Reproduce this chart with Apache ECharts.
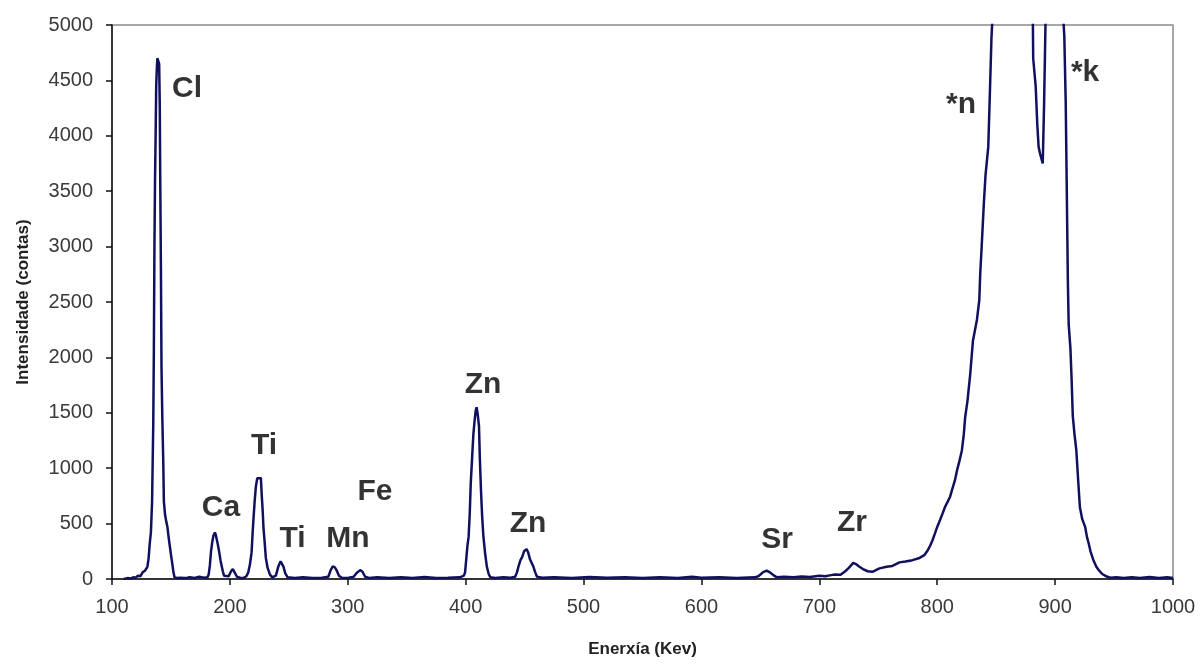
<!DOCTYPE html>
<html>
<head>
<meta charset="utf-8">
<script src="https://cdn.jsdelivr.net/npm/echarts@6/dist/echarts.min.js"></script>
<style>
  html, body { margin: 0; padding: 0; background: #ffffff; }
  #chart { width: 1200px; height: 664px; }
</style>
</head>
<body>
<div id="chart"></div>
<script>
// XRF spectrum: energy channel (Kev) and detected intensity (counts)
const energy = [
  110, 113, 116, 118, 120, 122, 124, 126, 128, 129, 130, 131, 132, 133, 134, 135, 135.5, 136, 136.5, 137,
  137.5, 138, 138.5, 139.3, 140, 140.5, 141, 141.5, 142, 142.7, 143.5, 144, 145, 146, 147, 148, 149, 150,
  151, 152, 153, 155, 158, 162, 166, 170, 174, 178, 181, 182, 183, 184, 185, 186, 187.3, 188, 189, 190,
  191, 192, 193, 194, 195, 196.5, 199, 201, 202.5, 204, 206, 209, 212, 214, 215.6, 217, 218.4, 219.3,
  220, 221, 222, 223.2, 226.3, 227, 227.8, 228.5, 229.5, 230.5, 232, 234, 236, 239, 241, 243, 244,
  245.5, 247, 249, 255, 262, 270, 278, 283.5, 285.5, 287.3, 289, 290.7, 292.5, 295, 300, 305, 307.5,
  310.5, 312.5, 314.7, 318, 325, 335, 345, 355, 365, 375, 385, 395, 398.5, 399.5, 400.5, 401.5, 402.5,
  403.5, 404.3, 405.5, 406.5, 407.5, 408.5, 409.3, 410.3, 411.3, 412, 413, 414, 415, 416.5, 418, 419.5,
  421, 425, 432, 438, 442, 443.5, 445, 446.5, 448, 449.5, 451.7, 453, 454.5, 456, 457.5, 459, 460.5,
  465, 475, 490, 505, 520, 535, 550, 565, 580, 592, 600, 615, 630, 645, 648.3, 650, 652, 655.3, 658,
  661, 664, 670, 678, 685, 692, 700, 705, 710, 713, 718, 722, 725, 728.8, 731, 734, 737, 741, 745, 751,
  757, 762, 768, 773, 779, 785, 789, 792, 794, 796, 798, 800, 802.3, 804.5, 806.6, 809, 811, 813, 815,
  817, 818.5, 820.9, 822.5, 823.7, 825.7, 828, 830.3, 833.7, 835.7, 836.5, 837.7, 839.6, 841, 843.3,
  844.7, 846, 848, 852, 860, 870, 878, 881, 881.4, 883.5, 884.9, 886, 887.2, 889.5, 890.6, 891.5, 892.5,
  897, 903, 906.5, 907, 907.8, 909, 909.8, 910.3, 910.8, 911.5, 913, 914, 915, 916.5, 918, 919.5, 921,
  923, 925.5, 927, 928.5, 930, 932.5, 935, 937, 940, 943.8, 947, 952, 958, 965, 972, 980, 988, 995, 1000
];
const counts = [
  0, 8, 5, 15, 12, 30, 25, 60, 75, 70, 110, 180, 320, 420, 700, 1400, 2050, 3000, 3600, 4000,
  4450, 4600, 4700, 4710, 4650, 4300, 3500, 2800, 1900, 1450, 1050, 700, 580, 520, 470, 380, 300, 220,
  150, 70, 15, 10, 12, 8, 15, 10, 20, 12, 15, 40, 120, 250, 330, 390, 420, 400, 350, 300,
  240, 170, 120, 70, 30, 15, 25, 70, 90, 60, 20, 10, 12, 25, 60, 130, 240, 420,
  540, 700, 830, 910, 910, 760, 620, 460, 330, 190, 100, 40, 15, 30, 110, 160, 150,
  110, 50, 15, 10, 15, 8, 12, 20, 80, 115, 105, 75, 30, 12, 10, 20, 55,
  80, 65, 20, 10, 15, 10, 15, 8, 18, 10, 12, 15, 30, 60, 180, 300, 380,
  600, 860, 1100, 1300, 1420, 1520, 1550, 1480, 1380, 1100, 800, 560, 390, 230, 110, 45,
  15, 10, 15, 12, 20, 60, 120, 170, 200, 250, 270, 240, 180, 145, 110, 60, 20,
  12, 15, 10, 18, 12, 15, 10, 15, 10, 20, 12, 15, 10, 15, 25, 40, 60, 75, 60,
  35, 15, 20, 15, 22, 18, 30, 25, 35, 40, 38, 70, 100, 145, 135, 110, 90, 70, 65, 96,
  110, 118, 150, 158, 170, 190, 215, 260, 300, 350, 410, 470, 530, 590, 650, 700, 745, 820, 890,
  990, 1050, 1160, 1300, 1460, 1610, 1850, 2150, 2340, 2520, 2760, 3000, 3400, 3650, 3900,
  4400, 4880, 5300, 5800, 6200, 6300, 6000, 5200, 4700, 4450, 4100, 3900, 3840, 3750, 4260, 4800, 5400,
  6300, 6000, 5300, 5050, 4900, 4300, 3600, 3150, 2700, 2300, 2080, 1800, 1470, 1300, 1160, 900, 650,
  540, 470, 380, 320, 250, 170, 110, 80, 45, 22, 12, 15, 8, 15, 10, 18, 10, 15, 10
];

// Element annotations: label text and the (energy, counts) point it sits on
const peakNames  = ['Cl', 'Ca', 'Ti', 'Ti', 'Mn', 'Fe', 'Zn', 'Zn', 'Sr', 'Zr', '*n', '*k'];
const peakEnergy = [163.6, 192.5, 228.9, 253.1, 300.2, 323.1, 414.7, 452.9, 664.1, 727.7, 820.2, 925.4];
const peakCounts = [4422, 641, 1200, 361, 361, 785, 1751, 496, 352, 505, 4278, 4567];

// Axis ticks
const xTicks = { min: 100, max: 1000, step: 100 };
const yTicks = { min: 0, max: 5000, step: 500 };

const spectrum = energy.map((e, i) => [e, counts[i]]);
const labels = peakNames.map((n, i) => [peakEnergy[i], peakCounts[i], n]);

const FONT = '"Liberation Sans", Arial, sans-serif';
const plain = v => String(v);

const chart = echarts.init(document.getElementById('chart'), null, { renderer: 'canvas' });
chart.setOption({
  animation: false,
  backgroundColor: '#ffffff',
  grid: {
    left: 112, right: 27, top: 25, bottom: 85,
    show: true, borderColor: '#8a8a8a', borderWidth: 1.5, backgroundColor: '#ffffff'
  },
  xAxis: {
    type: 'value',
    min: xTicks.min, max: xTicks.max, interval: xTicks.step,
    name: 'Enerxía (Kev)',
    nameLocation: 'middle',
    nameGap: 62,
    nameTextStyle: { fontFamily: FONT, fontSize: 17, fontWeight: 'bold', color: '#222' },
    axisLine: { show: true, lineStyle: { color: '#111', width: 1.5 } },
    axisTick: { show: true, length: 6, lineStyle: { color: '#111', width: 1.5 } },
    axisLabel: { fontFamily: FONT, fontSize: 20, color: '#3a3a3a', margin: 18, formatter: plain },
    splitLine: { show: false }
  },
  yAxis: {
    type: 'value',
    min: yTicks.min, max: yTicks.max, interval: yTicks.step,
    name: 'Intensidade (contas)',
    nameLocation: 'middle',
    nameGap: 80,
    nameTextStyle: { fontFamily: FONT, fontSize: 17, fontWeight: 'bold', color: '#222' },
    axisLine: { show: true, lineStyle: { color: '#111', width: 1.5 } },
    axisTick: { show: true, length: 6, lineStyle: { color: '#111', width: 1.5 } },
    axisLabel: { fontFamily: FONT, fontSize: 20, color: '#3a3a3a', margin: 19, formatter: plain },
    splitLine: { show: false }
  },
  series: [
    {
      type: 'line',
      data: spectrum,
      showSymbol: false,
      clip: true,
      lineStyle: { color: '#10105e', width: 2.5 },
      z: 3
    },
    {
      type: 'scatter',
      data: labels,
      symbolSize: 0,
      itemStyle: { color: 'transparent' },
      label: {
        show: true,
        position: 'inside',
        formatter: p => p.value[2],
        fontFamily: FONT,
        fontSize: 30,
        fontWeight: 'bold',
        color: '#000',
        textBorderWidth: 0
      },
      silent: true,
      z: 4
    }
  ]
});
</script>
</body>
</html>
